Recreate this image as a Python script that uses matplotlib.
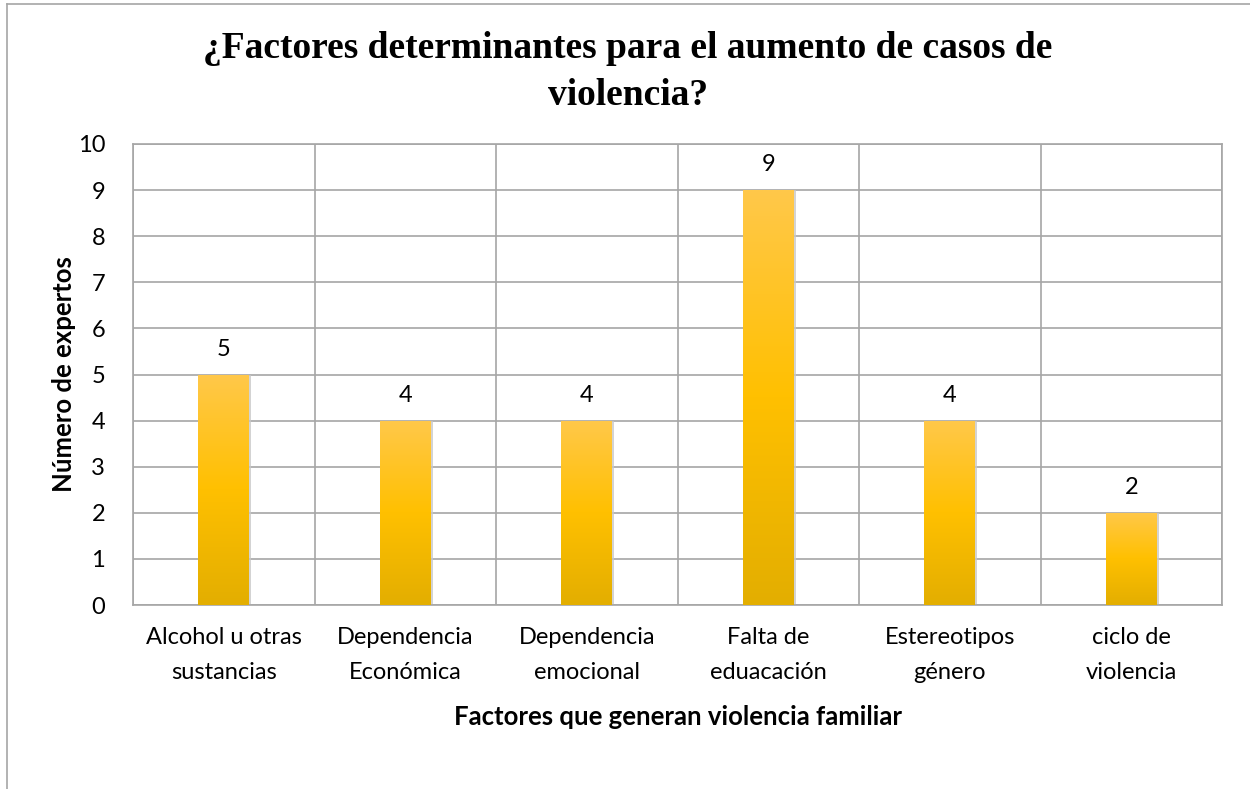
import matplotlib
matplotlib.use("Agg")
import matplotlib.pyplot as plt
import numpy as np
from matplotlib.colors import LinearSegmentedColormap
from matplotlib.patches import Rectangle
from matplotlib.lines import Line2D

categories = ["Alcohol u otras\nsustancias", "Dependencia\nEconómica", "Dependencia\nemocional",
              "Falta de\neduacación", "Estereotipos\ngénero", "ciclo de\nviolencia"]
values = [5, 4, 4, 9, 4, 2]
yticks = list(range(0, 11))

title = "¿Factores determinantes para el aumento de casos de\nviolencia?"
xlabel = "Factores que generan violencia familiar"
ylabel = "Número de expertos"

sans = ["Lato", "DejaVu Sans"]
fs = 17
fsl = 18.5

fig = plt.figure(figsize=(12.5, 7.89), dpi=100)
ax = fig.add_axes([133/1250, 1 - 605/789, (1222-133)/1250, (605-144)/789])

n = len(categories)
x = np.arange(n)
width = 0.28
ax.set_xlim(-0.5, n - 0.5)
ax.set_ylim(0, 10)

cmap = LinearSegmentedColormap.from_list("g", ["#E3AE00", "#FFC000", "#FFC84A"])
grad = np.linspace(0, 1, 256).reshape(-1, 1)
bars = ax.bar(x, values, width=width, color="none", zorder=3)
for b, v in zip(bars, values):
    x0 = b.get_x()
    ax.add_patch(Rectangle((x0 + 0.012, 0), width, v, facecolor="#c8c8c8", edgecolor="none", zorder=2.5, alpha=0.8))
    im = ax.imshow(grad, cmap=cmap, aspect="auto", extent=(x0, x0 + width, 0, v), origin="lower", zorder=3)
    im.set_clip_path(b)
    ax.text(b.get_x() + width / 2, v + 0.32, str(v), ha="center", va="bottom",
            fontsize=fs, family=sans, color="#000000")

ax.set_xlim(-0.5, n - 0.5)
ax.set_ylim(0, 10)
ax.set_yticks(yticks)
ax.set_yticklabels([str(t) for t in yticks], fontsize=fs, family=sans)
ax.set_xticks(x)
ax.set_xticklabels(categories, fontsize=fs, family=sans, linespacing=1.85)
ax.tick_params(axis="both", length=0, colors="#000000")
ax.tick_params(axis="y", pad=20)
ax.tick_params(axis="x", pad=15.5)

ax.yaxis.grid(True, color="#a6a6a6", linewidth=1.2, zorder=0)
for b in np.arange(-0.5, n, 1):
    ax.axvline(b, color="#a6a6a6", linewidth=1.2, zorder=0)
for s in ax.spines.values():
    s.set_color("#a6a6a6")
    s.set_linewidth(1.2)
ax.set_axisbelow(True)

ax.set_xlabel(xlabel, fontsize=fsl, family=sans, fontweight="bold", labelpad=16)
ax.set_ylabel(ylabel, fontsize=fsl, family=sans, fontweight="bold", labelpad=1)

fig.text(628/1250, 1 - 72/789, title, ha="center", va="center", fontsize=27,
         family=["Liberation Serif", "DejaVu Serif"], fontweight="bold", linespacing=1.45)

fig.add_artist(Line2D([7/1250, 7/1250], [0, 1 - 4/789], color="#a6a6a6", linewidth=1.2))
fig.add_artist(Line2D([7/1250, 1], [1 - 4/789, 1 - 4/789], color="#a6a6a6", linewidth=1.2))

fig.savefig("out.png", dpi=100)
